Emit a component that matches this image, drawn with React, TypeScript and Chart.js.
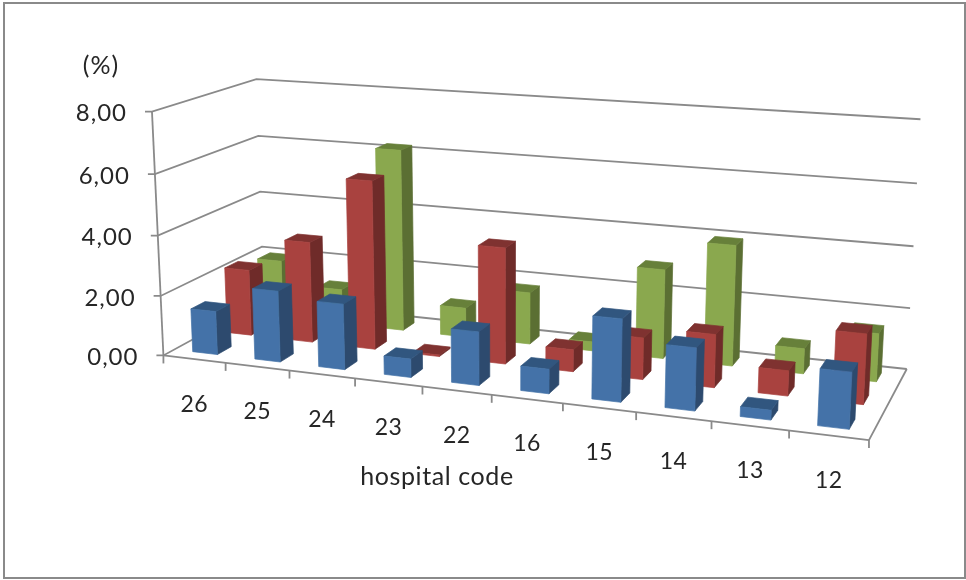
import React, { useEffect, useRef } from "react";
import { Chart, registerables } from "chart.js";

Chart.register(...registerables);

const categories = ["26", "25", "24", "23", "22", "16", "15", "14", "13", "12"];
const series1 = [1.45, 2.35, 2.15, 0.6, 1.72, 0.78, 2.6, 1.95, 0.3, 1.72];
const series2 = [2.25, 3.4, 5.63, 0.05, 3.82, 0.72, 1.35, 1.7, 0.8, 2.2];
const series3 = [2.0, 1.2, 6.2, 1.0, 1.75, 0.3, 2.95, 3.95, 0.82, 1.55];
const seriesNames = ["Series 1", "Series 2", "Series 3"];
const frontColors = ["#4472a8", "#a9423f", "#8aa84e"];
const sideColors = ["#2d4a6e", "#6f2b29", "#5b6f33"];
const topColors = ["#31567f", "#7f3230", "#67803a"];
const yTitle = "(%)";
const xTitle = "hospital code";

// Camera calibration: unit cube corner (u, v, w) -> canvas position
const cameraAnchors: number[][] = [
  [0, 0, 0, 165, 355],
  [1, 0, 0, 869, 440],
  [0.5, 0, 0, 491, 396],
  [0, 0, 1, 262, 301],
  [1, 0, 1, 907, 368],
  [0, 1, 0, 151, 111],
  [0, 1, 1, 257, 79],
  [1, 1, 1, 920, 120],
  [1, 0.5, 1, 914, 246],
  [0, 0.5, 1, 261, 192],
];

function solveCamera(pts: number[][]): number[] {
  const n = 11;
  const A: number[][] = Array.from({ length: n }, () => new Array(n + 1).fill(0));
  const add = (row: number[], rhs: number) => {
    for (let i = 0; i < n; i++) {
      for (let j = 0; j < n; j++) A[i][j] += row[i] * row[j];
      A[i][n] += row[i] * rhs;
    }
  };
  for (const [u, v, w, x, y] of pts) {
    add([u, v, w, 1, 0, 0, 0, 0, -x * u, -x * v, -x * w], x);
    add([0, 0, 0, 0, u, v, w, 1, -y * u, -y * v, -y * w], y);
  }
  for (let i = 0; i < n; i++) {
    let p = i;
    for (let r = i + 1; r < n; r++) if (Math.abs(A[r][i]) > Math.abs(A[p][i])) p = r;
    [A[i], A[p]] = [A[p], A[i]];
    for (let r = 0; r < n; r++) {
      if (r === i) continue;
      const f = A[r][i] / A[i][i];
      for (let c = i; c <= n; c++) A[r][c] -= f * A[i][c];
    }
  }
  return A.map((row, i) => row[n] / row[i]);
}

const M = solveCamera(cameraAnchors);
function project(u: number, v: number, w: number): [number, number] {
  const d = M[8] * u + M[9] * v + M[10] * w + 1;
  return [
    (M[0] * u + M[1] * v + M[2] * w + M[3]) / d,
    (M[4] * u + M[5] * v + M[6] * w + M[7]) / d,
  ];
}

const FONT = "Lato, Carlito, sans-serif";
const LINE = "#8a8a8a";
const TEXT = "#262626";

function poly(ctx: CanvasRenderingContext2D, pts: [number, number][], fill: string) {
  ctx.beginPath();
  pts.forEach((p, i) => (i ? ctx.lineTo(p[0], p[1]) : ctx.moveTo(p[0], p[1])));
  ctx.closePath();
  ctx.fillStyle = fill;
  ctx.strokeStyle = fill;
  ctx.lineWidth = 0.7;
  ctx.fill();
  ctx.stroke();
}

function seg(ctx: CanvasRenderingContext2D, a: [number, number], b: [number, number]) {
  ctx.beginPath();
  ctx.moveTo(a[0], a[1]);
  ctx.lineTo(b[0], b[1]);
  ctx.stroke();
}

function spaced(ctx: CanvasRenderingContext2D, font: string, spacing: string) {
  ctx.font = font;
  (ctx as any).letterSpacing = spacing;
}

const scene3d = {
  id: "scene3d",
  beforeDatasetsDraw(chart: any) {
    const ctx: CanvasRenderingContext2D = chart.ctx;
    const x = chart.scales.x;
    const y = chart.scales.y;
    const toU = (px: number) => (px - x.left) / x.width;
    const toV = (px: number) => (y.bottom - px) / y.height;

    ctx.save();
    // outer frame
    ctx.strokeStyle = LINE;
    ctx.lineWidth = 2;
    ctx.strokeRect(4, 3, 961, 575);

    // walls, gridlines, y ticks
    ctx.lineWidth = 1.8;
    ctx.strokeStyle = LINE;
    ctx.textAlign = "right";
    ctx.textBaseline = "middle";
    spaced(ctx, `24px ${FONT}`, "1px");
    for (const t of y.ticks) {
      const v = toV(y.getPixelForValue(t.value));
      const f = project(0, v, 0);
      const bl = project(0, v, 1);
      const br = project(1, v, 1);
      ctx.beginPath();
      ctx.moveTo(f[0] - 7, f[1]);
      ctx.lineTo(f[0], f[1]);
      ctx.lineTo(bl[0], bl[1]);
      ctx.lineTo(br[0], br[1]);
      ctx.stroke();
      ctx.fillStyle = TEXT;
      ctx.fillText(t.value.toFixed(2).replace(".", ","), f[0] - 25, f[1] + 2);
    }
    // axis and floor edges
    seg(ctx, project(0, 0, 0), project(0, 1, 0));
    seg(ctx, project(0, 0, 0), project(1, 0, 0));
    seg(ctx, project(1, 0, 0), project(1, 0, 1));

    // x ticks and labels
    ctx.textAlign = "center";
    spaced(ctx, `23px ${FONT}`, "0.5px");
    const n = categories.length;
    for (let i = 0; i <= n; i++) {
      const p = project(i / n, 0, 0);
      seg(ctx, p, [p[0], p[1] + 8]);
    }
    categories.forEach((c, i) => {
      const p = project(toU(x.getPixelForValue(i)), 0, 0);
      ctx.fillStyle = TEXT;
      ctx.fillText(c, p[0], p[1] + 45);
    });

    // bars, farthest row first
    const rows = chart.data.datasets.length;
    for (let d = rows - 1; d >= 0; d--) {
      const meta = chart.getDatasetMeta(d);
      const w0 = (d + 0.3) / rows;
      const w1 = w0 + 0.4 / rows;
      meta.data.forEach((el: any) => {
        const u0 = toU(el.x - el.width / 2);
        const u1 = toU(el.x + el.width / 2);
        const v1 = toV(el.y);
        const v0 = toV(el.base);
        poly(ctx, [project(u1, v0, w0), project(u1, v0, w1), project(u1, v1, w1), project(u1, v1, w0)], sideColors[d]);
        poly(ctx, [project(u0, v1, w0), project(u1, v1, w0), project(u1, v1, w1), project(u0, v1, w1)], topColors[d]);
        poly(ctx, [project(u0, v0, w0), project(u1, v0, w0), project(u1, v1, w0), project(u0, v1, w0)], frontColors[d]);
      });
    }

    // titles
    ctx.fillStyle = TEXT;
    ctx.textAlign = "center";
    spaced(ctx, `25px ${FONT}`, "0.6px");
    ctx.fillText(xTitle, 437, 477);
    spaced(ctx, `25px ${FONT}`, "1px");
    ctx.fillText(yTitle, 101, 66);
    ctx.restore();
    return false;
  },
};

export default function App() {
  const ref = useRef<HTMLCanvasElement | null>(null);
  useEffect(() => {
    document.body.style.margin = "0";
    document.body.style.background = "#ffffff";
    const chart = new Chart(ref.current as HTMLCanvasElement, {
      type: "bar",
      data: {
        labels: categories,
        datasets: [series1, series2, series3].map((data, i) => ({
          label: seriesNames[i],
          data,
          backgroundColor: frontColors[i],
          categoryPercentage: 0.4,
          barPercentage: 1,
        })),
      },
      options: {
        responsive: false,
        animation: false,
        plugins: { legend: { display: false }, title: { display: false }, tooltip: { enabled: false } },
        scales: {
          x: { type: "category", stacked: true, display: false },
          y: { type: "linear", stacked: false, min: 0, max: 8, ticks: { stepSize: 2 }, display: false },
        },
      },
      plugins: [scene3d],
    } as any);
    return () => chart.destroy();
  }, []);
  return <canvas ref={ref} width={966} height={580} style={{ display: "block" }} />;
}
